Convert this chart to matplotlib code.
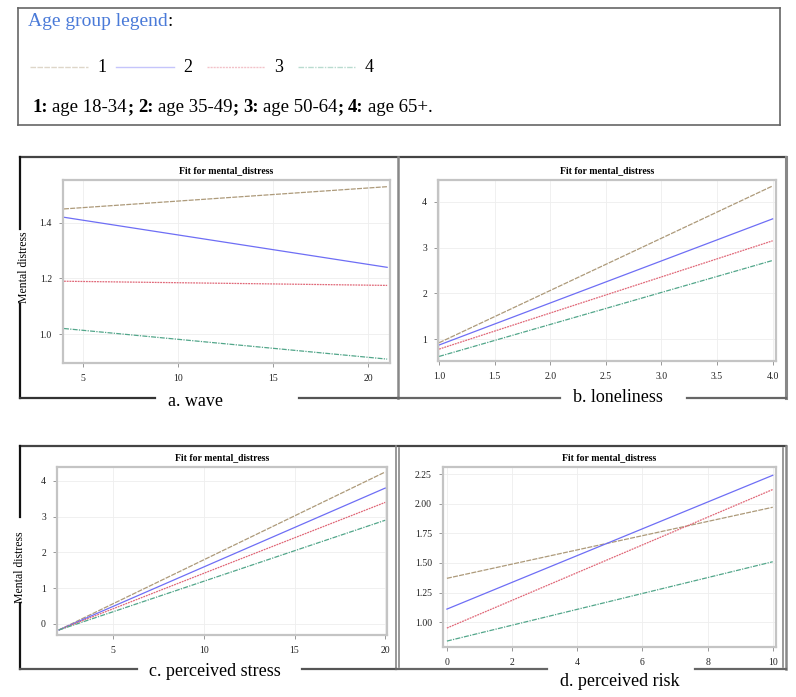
import matplotlib
matplotlib.use("Agg")
import matplotlib.pyplot as plt
from matplotlib.lines import Line2D

plt.rcParams['font.family'] = ['Liberation Serif', 'DejaVu Serif']

W, H = 796, 697

# age groups
groups = ['1', '2', '3', '4']
group_desc = ['age 18-34', 'age 35-49', 'age 50-64', 'age 65+']
colors = ['#ad9a7a', '#6e6ef5', '#e06878', '#52a68a']
styles = [(0, (4, 1)), '-', (0, (1.5, 0.7)), (0, (4, 1, 1, 1))]

# fitted lines: x range and (start, end) value per group
wave_x = [4, 21]
wave_y = [(1.45, 1.53), (1.42, 1.24), (1.19, 1.175), (1.02, 0.91)]
lonely_x = [1.0, 4.0]
lonely_y = [(0.92, 4.35), (0.87, 3.63), (0.78, 3.15), (0.62, 2.72)]
stress_x = [2, 20]
stress_y = [(-0.17, 4.25), (-0.17, 3.8), (-0.17, 3.4), (-0.17, 2.9)]
risk_x = [0, 10]
risk_y = [(1.37, 1.97), (1.11, 2.24), (0.95, 2.12), (0.84, 1.51)]

panel_labels = ['a. wave', 'b. loneliness', 'c. perceived stress', 'd. perceived risk']


def fx(x):
    return x / W


def fy(y):
    return 1 - y / H


def rect(l, t, r, b):
    return [l / W, 1 - b / H, (r - l) / W, (b - t) / H]


def hline(fig, x0, x1, y, color='#555555', lw=1.6):
    fig.add_artist(Line2D([fx(x0), fx(x1)], [fy(y), fy(y)], color=color, lw=lw))


def vline(fig, x, y0, y1, color='#555555', lw=1.6):
    fig.add_artist(Line2D([fx(x), fx(x)], [fy(y0), fy(y1)], color=color, lw=lw))


def put(fig, x, y, s, gap, **kw):
    # place text at pixel x and return where the next piece starts
    t = fig.text(fx(x), fy(y), s, va='center', **kw)
    fig.canvas.draw()
    return t.get_window_extent().x1 + gap


fig = plt.figure(figsize=(W / 100, H / 100), dpi=100)

# legend box at the top
hline(fig, 18, 780, 8, '#666666', 1.2)
hline(fig, 18, 780, 125, '#666666', 1.2)
vline(fig, 18, 8, 125, '#666666', 1.2)
vline(fig, 780, 8, 125, '#666666', 1.2)
xc = put(fig, 28, 22, 'Age group legend', 0, color='#4a7ad8', fontsize=14)
put(fig, xc, 22, ':', 0, fontsize=14)
seg_x = [30, 116, 207, 298]
for g, c, s, x0 in zip(groups, colors, styles, seg_x):
    fig.add_artist(Line2D([fx(x0), fx(x0 + 58)], [fy(67), fy(67)], color=c, ls=s, lw=1.0, alpha=0.4))
    fig.text(fx(x0 + 67), fy(67), g, fontsize=13, va='center')

xt = 33
for i, (g, d) in enumerate(zip(groups, group_desc)):
    xt = put(fig, xt, 108, g + ':', 4, fontsize=13.5, fontweight='bold')
    xt = put(fig, xt, 108, d, 0, fontsize=13.5)
    if i < 3:
        xt = put(fig, xt, 108, ';', 5, fontsize=13.5, fontweight='bold')
    else:
        put(fig, xt, 108, '.', 0, fontsize=13.5)

# panel frames
# top row
hline(fig, 20, 786, 157, '#444444')
vline(fig, 20, 157, 229, '#111111')
vline(fig, 20, 304, 398, '#111111')
vline(fig, 398, 157, 398, '#888888', 1.8)
vline(fig, 786, 157, 398, '#888888', 2.2)
hline(fig, 20, 155, 398, '#333333')
hline(fig, 299, 398, 398, '#555555')
hline(fig, 398, 560, 398, '#666666')
hline(fig, 687, 786, 398, '#666666')
# bottom row
hline(fig, 20, 786, 446, '#444444')
vline(fig, 20, 446, 517, '#111111')
vline(fig, 20, 603, 669, '#111111')
vline(fig, 396, 446, 669, '#888888', 1.2)
vline(fig, 399, 448, 667, '#888888', 1.2)
vline(fig, 783, 448, 667, '#888888', 1.2)
vline(fig, 786, 446, 669, '#888888', 1.8)
hline(fig, 20, 137, 669, '#555555')
hline(fig, 302, 396, 669, '#555555')
hline(fig, 396, 547, 669, '#666666')
hline(fig, 695, 786, 669, '#666666')

fig.text(fx(196), fy(402), panel_labels[0], fontsize=13, ha='center', va='center')
fig.text(fx(618), fy(397), panel_labels[1], fontsize=13, ha='center', va='center')
fig.text(fx(215), fy(672), panel_labels[2], fontsize=13, ha='center', va='center')
fig.text(fx(620), fy(681), panel_labels[3], fontsize=13, ha='center', va='center')

fig.text(fx(24), fy(267), 'Mental distress', fontsize=8.5, rotation=90, ha='center', va='center')
fig.text(fx(20), fy(567), 'Mental distress', fontsize=8.5, rotation=90, ha='center', va='center')

panels = [
    (rect(63, 180, 390, 363), wave_x, wave_y, (3.95, 21.15), (0.896, 1.554),
     [5, 10, 15, 20], [1.0, 1.2, 1.4], '{:.1f}'),
    (rect(438, 180, 776, 361), lonely_x, lonely_y, (0.99, 4.03), (0.52, 4.48),
     [1.0, 1.5, 2.0, 2.5, 3.0, 3.5, 4.0], [1, 2, 3, 4], '{:g}'),
    (rect(57, 467, 387, 635), stress_x, stress_y, (1.9, 20.1), (-0.31, 4.39),
     [5, 10, 15, 20], [0, 1, 2, 3, 4], '{:g}'),
    (rect(443, 467, 776, 647), risk_x, risk_y, (-0.12, 10.1), (0.79, 2.31),
     [0, 2, 4, 6, 8, 10], [1.0, 1.25, 1.5, 1.75, 2.0, 2.25], '{:.2f}'),
]

for i, (pos, xs, ys, xl, yl, xt_, yt_, yfmt) in enumerate(panels):
    ax = fig.add_axes(pos)
    for (y0, y1), c, s in zip(ys, colors, styles):
        ax.plot(xs, [y0, y1], color=c, ls=s, lw=0.9)
    ax.set_xlim(*xl)
    ax.set_ylim(*yl)
    ax.set_xticks(xt_)
    if i == 1:
        ax.set_xticklabels(['{:.1f}'.format(v) for v in xt_])
    else:
        ax.set_xticklabels(['{:g}'.format(v) for v in xt_])
    ax.set_yticks(yt_)
    ax.set_yticklabels([yfmt.format(v) for v in yt_])
    ax.grid(True, color='#eeeeee', lw=0.6)
    ax.set_axisbelow(True)
    for sp in ax.spines.values():
        sp.set_color('#c4c4c4')
        sp.set_linewidth(1.6)
    ax.tick_params(labelsize=7, length=3, width=0.6, color='#888888', pad=5, labelcolor='#222222')
    ax.set_title('Fit for mental_distress', fontsize=7, fontweight='bold', pad=5)

fig.savefig('out.png', dpi=100)
